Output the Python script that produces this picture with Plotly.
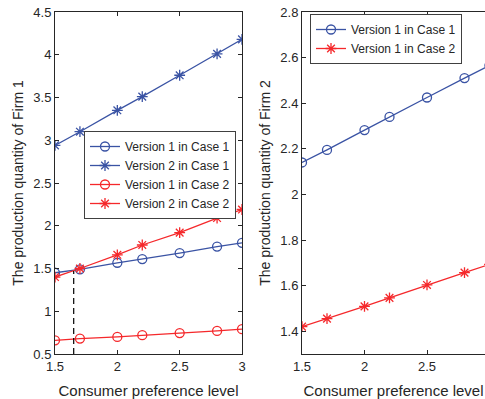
import plotly.graph_objects as go

x = [1.5, 1.7, 2.0, 2.2, 2.5, 2.8, 3.0]

# Firm 1 (left panel)
f1_v1_c1 = [1.45, 1.49, 1.567, 1.61, 1.68, 1.756, 1.80]
f1_v2_c1 = [2.94, 3.10, 3.35, 3.51, 3.76, 4.01, 4.18]
f1_v1_c2 = [0.66, 0.68, 0.70, 0.72, 0.745, 0.77, 0.79]
f1_v2_c2 = [1.40, 1.50, 1.66, 1.775, 1.92, 2.09, 2.19]

# Firm 2 (right panel)
f2_v1_c1 = [2.14, 2.195, 2.282, 2.34, 2.425, 2.51, 2.565]
f2_v1_c2 = [1.42, 1.455, 1.509, 1.546, 1.603, 1.657, 1.693]

# dashed marker of the crossing point
cross_x = [1.65, 1.65]
cross_y = [0.5, 1.47]

BLUE = "#3A53A4"
RED = "#F5282B"
FONT = "Liberation Sans, Arial, sans-serif"
TXT = "#262626"

W, H = 485, 399

def px_x(p):
    return p / W

def px_y(p):
    return 1 - p / H

fig = go.Figure()

def add(xv, yv, name, color, symbol, xa, ya, legend):
    fig.add_trace(go.Scatter(
        x=xv, y=yv, name=name, mode="lines+markers",
        line=dict(color=color, width=1.3),
        marker=dict(symbol=symbol, size=9, color=color,
                    line=dict(color=color, width=1.3)),
        xaxis=xa, yaxis=ya, legend=legend, cliponaxis=True))

add(x, f1_v1_c1, "Version 1 in Case 1", BLUE, "circle-open", "x", "y", "legend")
add(x, f1_v2_c1, "Version 2 in Case 1", BLUE, "asterisk-open", "x", "y", "legend")
add(x, f1_v1_c2, "Version 1 in Case 2", RED, "circle-open", "x", "y", "legend")
add(x, f1_v2_c2, "Version 2 in Case 2", RED, "asterisk-open", "x", "y", "legend")

fig.add_trace(go.Scatter(x=cross_x, y=cross_y, mode="lines", showlegend=False,
                         line=dict(color="black", width=1.2, dash="6px,4px"),
                         xaxis="x", yaxis="y", hoverinfo="skip"))

add(x, f2_v1_c1, "Version 1 in Case 1", BLUE, "circle-open", "x2", "y2", "legend2")
add(x, f2_v1_c2, "Version 1 in Case 2", RED, "asterisk-open", "x2", "y2", "legend2")

axis_common = dict(showgrid=False, zeroline=False, ticks="inside", ticklen=4,
                   automargin=False, ticklabeloverflow="allow",
                   linecolor="#262626", linewidth=1, tickcolor="#262626",
                   tickfont=dict(family=FONT, size=13, color=TXT))

XT = dict(family=FONT, size=15, color=TXT)
YT = dict(family=FONT, size=14, color=TXT)

ydom = [px_y(354), px_y(12)]

fig.update_layout(
    width=W, height=H,
    margin=dict(l=0, r=0, t=0, b=0, autoexpand=False),
    paper_bgcolor="white", plot_bgcolor="white",
    font=dict(family=FONT, color=TXT),
    xaxis=dict(domain=[px_x(55), px_x(242)], range=[1.5, 3], dtick=0.5,
               mirror="ticks", showline=True,
               title=dict(text="Consumer preference level", standoff=12, font=XT), **axis_common),
    yaxis=dict(domain=ydom, range=[0.5, 4.5], dtick=0.5, mirror="ticks", showline=True,
               title=dict(text="The production quantity of Firm 1", standoff=6, font=YT), **axis_common),
    xaxis2=dict(domain=[px_x(302), 1.0], range=[1.5, 2.964], dtick=0.5, anchor="y2",
                mirror="ticks", showline=True,
                title=dict(text="Consumer preference level", standoff=12, font=XT), **axis_common),
    yaxis2=dict(domain=ydom, range=[1.3, 2.8], dtick=0.2, anchor="x2", showline=True,
                mirror=False,
                title=dict(text="The production quantity of Firm 2", standoff=6, font=YT), **axis_common),
    legend=dict(x=px_x(84), y=px_y(131), xanchor="left", yanchor="top",
                bgcolor="white", bordercolor="#404040", borderwidth=1,
                font=dict(family=FONT, size=12, color=TXT), tracegroupgap=0,
                itemwidth=30),
    legend2=dict(x=px_x(310), y=px_y(14), xanchor="left", yanchor="top",
                 bgcolor="white", bordercolor="#404040", borderwidth=1,
                 font=dict(family=FONT, size=12, color=TXT), tracegroupgap=0,
                 itemwidth=30),
)

# remove the default 8px page margin so the figure fills the window exactly
fig.write_html("out.html", config={"displayModeBar": False},
               post_script="document.body.style.margin='0px';")
